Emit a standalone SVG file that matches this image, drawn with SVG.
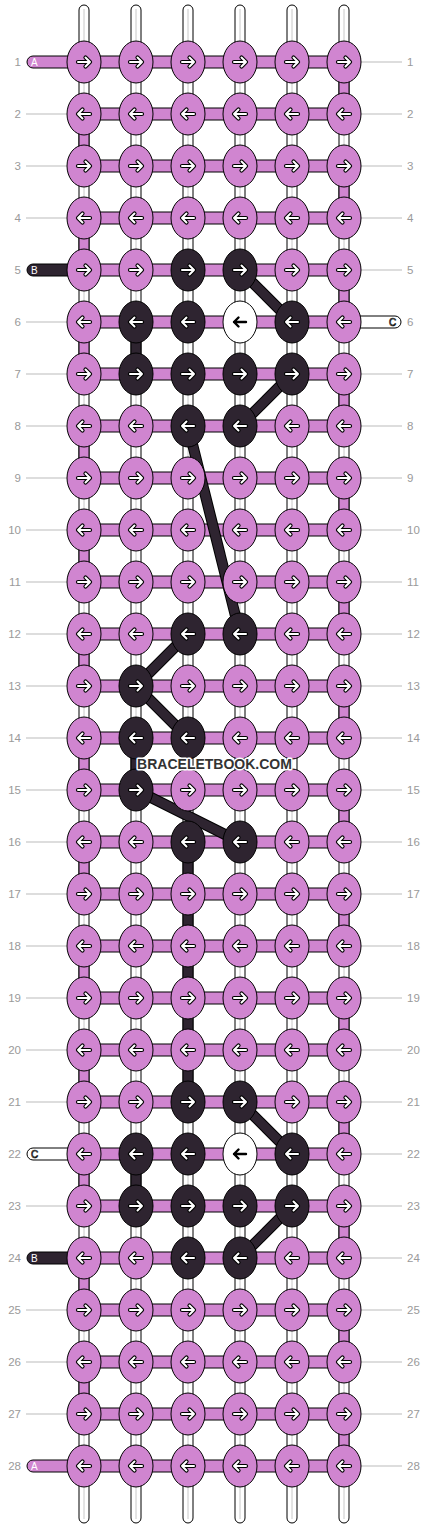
<svg xmlns="http://www.w3.org/2000/svg" xmlns:xlink="http://www.w3.org/1999/xlink" width="428" height="1528" viewBox="0 0 428 1528">
<style>
.ws{fill:#fff;stroke:#000;stroke-width:1}
.wl{stroke:#c8c8c8;stroke-width:1}
.p{fill:#d085d0}
.d{fill:#2e2430}
.w{fill:#fff}
.seg{stroke:#000;stroke-width:1}
.n ellipse{stroke:#000;stroke-width:1}
.num{font-family:"Liberation Sans",Arial,sans-serif;font-size:11.5px;fill:#9a9a9a}
.gl{stroke:#bbb;stroke-width:1}
.lab{font-family:"Liberation Sans",Arial,sans-serif;font-size:10px;fill:#fff}
.labc{font-family:"Liberation Sans",Arial,sans-serif;font-size:10px;fill:#fff;stroke:#000;stroke-width:0.7}
.dgo{stroke:#000;stroke-width:11;stroke-linecap:butt}
.dgi{stroke:#2e2430;stroke-width:9;stroke-linecap:butt}
.wm{font-family:"Liberation Sans",Arial,sans-serif;font-size:14px;font-weight:bold;fill:#333;stroke:#fff;stroke-width:3;paint-order:stroke;stroke-linejoin:round}
</style>
<defs>
<g id="R" fill="none" stroke-linecap="round" stroke-linejoin="round">
<path d="M-6,0H6M1.5,-4.5L6,0L1.5,4.5" stroke="#000" stroke-width="4.2"/>
<path d="M-6,0H6M1.5,-4.5L6,0L1.5,4.5" stroke="#fff" stroke-width="2"/>
</g>
<g id="L" fill="none" stroke-linecap="round" stroke-linejoin="round">
<path d="M6,0H-6M-1.5,-4.5L-6,0L-1.5,4.5" stroke="#000" stroke-width="4.2"/>
<path d="M6,0H-6M-1.5,-4.5L-6,0L-1.5,4.5" stroke="#fff" stroke-width="2"/>
</g>
<g id="Lk" fill="none" stroke-linecap="round" stroke-linejoin="round">
<path d="M6,0H-6M-1.5,-4.5L-6,0L-1.5,4.5" stroke="#000" stroke-width="2.4"/>
</g>
</defs>
<rect width="428" height="1528" fill="#fff"/>
<g id="strings">
<rect class="ws" x="79" y="5" width="10" height="1518" rx="5"/>
<rect class="ws" x="131" y="5" width="10" height="1518" rx="5"/>
<rect class="ws" x="183" y="5" width="10" height="1518" rx="5"/>
<rect class="ws" x="235" y="5" width="10" height="1518" rx="5"/>
<rect class="ws" x="287" y="5" width="10" height="1518" rx="5"/>
<rect class="ws" x="339" y="5" width="10" height="1518" rx="5"/>
<line class="wl" x1="84" y1="9" x2="84" y2="1519"/>
<line class="wl" x1="136" y1="9" x2="136" y2="1519"/>
<line class="wl" x1="188" y1="9" x2="188" y2="1519"/>
<line class="wl" x1="240" y1="9" x2="240" y2="1519"/>
<line class="wl" x1="292" y1="9" x2="292" y2="1519"/>
<line class="wl" x1="344" y1="9" x2="344" y2="1519"/>
</g>
<g id="connectors">
<!-- vertical turn segments -->
<rect class="seg p" x="339" y="62" width="10" height="52"/>
<rect class="seg p" x="79" y="114" width="10" height="52"/>
<rect class="seg p" x="339" y="166" width="10" height="52"/>
<rect class="seg p" x="79" y="218" width="10" height="52"/>
<rect class="seg p" x="339" y="270" width="10" height="52"/>
<rect class="seg p" x="79" y="322" width="10" height="52"/>
<rect class="seg p" x="339" y="374" width="10" height="52"/>
<rect class="seg p" x="79" y="426" width="10" height="52"/>
<rect class="seg p" x="339" y="478" width="10" height="52"/>
<rect class="seg p" x="79" y="530" width="10" height="52"/>
<rect class="seg p" x="339" y="582" width="10" height="52"/>
<rect class="seg p" x="79" y="634" width="10" height="52"/>
<rect class="seg p" x="339" y="686" width="10" height="52"/>
<rect class="seg p" x="79" y="738" width="10" height="52"/>
<rect class="seg p" x="339" y="790" width="10" height="52"/>
<rect class="seg p" x="79" y="842" width="10" height="52"/>
<rect class="seg p" x="339" y="894" width="10" height="52"/>
<rect class="seg p" x="79" y="946" width="10" height="52"/>
<rect class="seg p" x="339" y="998" width="10" height="52"/>
<rect class="seg p" x="79" y="1050" width="10" height="52"/>
<rect class="seg p" x="339" y="1102" width="10" height="52"/>
<rect class="seg p" x="79" y="1154" width="10" height="52"/>
<rect class="seg p" x="339" y="1206" width="10" height="52"/>
<rect class="seg p" x="79" y="1258" width="10" height="52"/>
<rect class="seg p" x="339" y="1310" width="10" height="52"/>
<rect class="seg p" x="79" y="1362" width="10" height="52"/>
<rect class="seg p" x="339" y="1414" width="10" height="52"/>
<!-- dark vertical segments -->
<rect class="seg d" x="131" y="322" width="10" height="52"/>
<rect class="seg d" x="131" y="738" width="10" height="52"/>
<rect class="seg d" x="183" y="842" width="10" height="260"/>
<rect class="seg d" x="131" y="1154" width="10" height="52"/>
<!-- horizontal bars -->
<rect class="seg p" x="84" y="56" width="260" height="12"/>
<rect class="seg p" x="84" y="108" width="260" height="12"/>
<rect class="seg p" x="84" y="160" width="260" height="12"/>
<rect class="seg p" x="84" y="212" width="260" height="12"/>
<rect class="seg p" x="84" y="264" width="260" height="12"/>
<rect class="seg p" x="84" y="316" width="260" height="12"/>
<rect class="seg p" x="84" y="368" width="260" height="12"/>
<rect class="seg p" x="84" y="420" width="260" height="12"/>
<rect class="seg p" x="84" y="472" width="260" height="12"/>
<rect class="seg p" x="84" y="524" width="260" height="12"/>
<rect class="seg p" x="84" y="576" width="260" height="12"/>
<rect class="seg p" x="84" y="628" width="260" height="12"/>
<rect class="seg p" x="84" y="680" width="260" height="12"/>
<rect class="seg p" x="84" y="732" width="260" height="12"/>
<rect class="seg p" x="84" y="784" width="260" height="12"/>
<rect class="seg p" x="84" y="836" width="260" height="12"/>
<rect class="seg p" x="84" y="888" width="260" height="12"/>
<rect class="seg p" x="84" y="940" width="260" height="12"/>
<rect class="seg p" x="84" y="992" width="260" height="12"/>
<rect class="seg p" x="84" y="1044" width="260" height="12"/>
<rect class="seg p" x="84" y="1096" width="260" height="12"/>
<rect class="seg p" x="84" y="1148" width="260" height="12"/>
<rect class="seg p" x="84" y="1200" width="260" height="12"/>
<rect class="seg p" x="84" y="1252" width="260" height="12"/>
<rect class="seg p" x="84" y="1304" width="260" height="12"/>
<rect class="seg p" x="84" y="1356" width="260" height="12"/>
<rect class="seg p" x="84" y="1408" width="260" height="12"/>
<rect class="seg p" x="84" y="1460" width="260" height="12"/>
<!-- start strings -->
<rect class="seg p" x="27" y="56" width="57" height="12" rx="6"/>
<rect class="seg d" x="27" y="264" width="57" height="12" rx="6"/>
<rect class="seg w" x="344" y="316" width="57" height="12" rx="6"/>
<rect class="seg w" x="27" y="1148" width="57" height="12" rx="6"/>
<rect class="seg d" x="27" y="1252" width="57" height="12" rx="6"/>
<rect class="seg p" x="27" y="1460" width="57" height="12" rx="6"/>
<!-- diagonals -->
<line class="dgo" x1="240" y1="270" x2="292" y2="322"/>
<line class="dgo" x1="292" y1="374" x2="240" y2="426"/>
<line class="dgo" x1="188" y1="426" x2="240" y2="634"/>
<line class="dgo" x1="188" y1="634" x2="136" y2="686"/>
<line class="dgo" x1="136" y1="686" x2="188" y2="738"/>
<line class="dgo" x1="136" y1="790" x2="240" y2="842"/>
<line class="dgo" x1="240" y1="1102" x2="292" y2="1154"/>
<line class="dgo" x1="292" y1="1206" x2="240" y2="1258"/>
<line class="dgi" x1="240" y1="270" x2="292" y2="322"/>
<line class="dgi" x1="292" y1="374" x2="240" y2="426"/>
<line class="dgi" x1="188" y1="426" x2="240" y2="634"/>
<line class="dgi" x1="188" y1="634" x2="136" y2="686"/>
<line class="dgi" x1="136" y1="686" x2="188" y2="738"/>
<line class="dgi" x1="136" y1="790" x2="240" y2="842"/>
<line class="dgi" x1="240" y1="1102" x2="292" y2="1154"/>
<line class="dgi" x1="292" y1="1206" x2="240" y2="1258"/>
</g>
<g id="labels">
<text class="lab" x="31" y="66">A</text>
<text class="lab" x="31" y="274">B</text>
<text class="labc" x="389" y="326">C</text>
<text class="labc" x="31" y="1158">C</text>
<text class="lab" x="31" y="1262">B</text>
<text class="lab" x="31" y="1470">A</text>
<line class="gl" x1="26" y1="114" x2="67" y2="114"/><line class="gl" x1="26" y1="166" x2="67" y2="166"/><line class="gl" x1="26" y1="218" x2="67" y2="218"/><line class="gl" x1="26" y1="322" x2="67" y2="322"/><line class="gl" x1="26" y1="374" x2="67" y2="374"/><line class="gl" x1="26" y1="426" x2="67" y2="426"/><line class="gl" x1="26" y1="478" x2="67" y2="478"/><line class="gl" x1="26" y1="530" x2="67" y2="530"/><line class="gl" x1="26" y1="582" x2="67" y2="582"/><line class="gl" x1="26" y1="634" x2="67" y2="634"/><line class="gl" x1="26" y1="686" x2="67" y2="686"/><line class="gl" x1="26" y1="738" x2="67" y2="738"/><line class="gl" x1="26" y1="790" x2="67" y2="790"/><line class="gl" x1="26" y1="842" x2="67" y2="842"/><line class="gl" x1="26" y1="894" x2="67" y2="894"/><line class="gl" x1="26" y1="946" x2="67" y2="946"/><line class="gl" x1="26" y1="998" x2="67" y2="998"/><line class="gl" x1="26" y1="1050" x2="67" y2="1050"/><line class="gl" x1="26" y1="1102" x2="67" y2="1102"/><line class="gl" x1="26" y1="1206" x2="67" y2="1206"/><line class="gl" x1="26" y1="1310" x2="67" y2="1310"/><line class="gl" x1="26" y1="1362" x2="67" y2="1362"/><line class="gl" x1="26" y1="1414" x2="67" y2="1414"/>
<line class="gl" x1="361" y1="62" x2="402" y2="62"/><line class="gl" x1="361" y1="114" x2="402" y2="114"/><line class="gl" x1="361" y1="166" x2="402" y2="166"/><line class="gl" x1="361" y1="218" x2="402" y2="218"/><line class="gl" x1="361" y1="270" x2="402" y2="270"/><line class="gl" x1="361" y1="374" x2="402" y2="374"/><line class="gl" x1="361" y1="426" x2="402" y2="426"/><line class="gl" x1="361" y1="478" x2="402" y2="478"/><line class="gl" x1="361" y1="530" x2="402" y2="530"/><line class="gl" x1="361" y1="582" x2="402" y2="582"/><line class="gl" x1="361" y1="634" x2="402" y2="634"/><line class="gl" x1="361" y1="686" x2="402" y2="686"/><line class="gl" x1="361" y1="738" x2="402" y2="738"/><line class="gl" x1="361" y1="790" x2="402" y2="790"/><line class="gl" x1="361" y1="842" x2="402" y2="842"/><line class="gl" x1="361" y1="894" x2="402" y2="894"/><line class="gl" x1="361" y1="946" x2="402" y2="946"/><line class="gl" x1="361" y1="998" x2="402" y2="998"/><line class="gl" x1="361" y1="1050" x2="402" y2="1050"/><line class="gl" x1="361" y1="1102" x2="402" y2="1102"/><line class="gl" x1="361" y1="1154" x2="402" y2="1154"/><line class="gl" x1="361" y1="1206" x2="402" y2="1206"/><line class="gl" x1="361" y1="1258" x2="402" y2="1258"/><line class="gl" x1="361" y1="1310" x2="402" y2="1310"/><line class="gl" x1="361" y1="1362" x2="402" y2="1362"/><line class="gl" x1="361" y1="1414" x2="402" y2="1414"/><line class="gl" x1="361" y1="1466" x2="402" y2="1466"/>
<g class="num" text-anchor="end">
<text x="21" y="66">1</text><text x="21" y="118">2</text><text x="21" y="170">3</text><text x="21" y="222">4</text><text x="21" y="274">5</text><text x="21" y="326">6</text><text x="21" y="378">7</text><text x="21" y="430">8</text><text x="21" y="482">9</text><text x="21" y="534">10</text><text x="21" y="586">11</text><text x="21" y="638">12</text><text x="21" y="690">13</text><text x="21" y="742">14</text><text x="21" y="794">15</text><text x="21" y="846">16</text><text x="21" y="898">17</text><text x="21" y="950">18</text><text x="21" y="1002">19</text><text x="21" y="1054">20</text><text x="21" y="1106">21</text><text x="21" y="1158">22</text><text x="21" y="1210">23</text><text x="21" y="1262">24</text><text x="21" y="1314">25</text><text x="21" y="1366">26</text><text x="21" y="1418">27</text><text x="21" y="1470">28</text>
</g>
<g class="num">
<text x="407" y="66">1</text><text x="407" y="118">2</text><text x="407" y="170">3</text><text x="407" y="222">4</text><text x="407" y="274">5</text><text x="407" y="326">6</text><text x="407" y="378">7</text><text x="407" y="430">8</text><text x="407" y="482">9</text><text x="407" y="534">10</text><text x="407" y="586">11</text><text x="407" y="638">12</text><text x="407" y="690">13</text><text x="407" y="742">14</text><text x="407" y="794">15</text><text x="407" y="846">16</text><text x="407" y="898">17</text><text x="407" y="950">18</text><text x="407" y="1002">19</text><text x="407" y="1054">20</text><text x="407" y="1106">21</text><text x="407" y="1158">22</text><text x="407" y="1210">23</text><text x="407" y="1262">24</text><text x="407" y="1314">25</text><text x="407" y="1366">26</text><text x="407" y="1418">27</text><text x="407" y="1470">28</text>
</g>
</g>
<g id="nodes">
<g id="r1c1" class="n" transform="translate(84,62)"><ellipse class="p" rx="17" ry="21"/><use href="#R"/></g>
<g id="r1c2" class="n" transform="translate(136,62)"><ellipse class="p" rx="17" ry="21"/><use href="#R"/></g>
<g id="r1c3" class="n" transform="translate(188,62)"><ellipse class="p" rx="17" ry="21"/><use href="#R"/></g>
<g id="r1c4" class="n" transform="translate(240,62)"><ellipse class="p" rx="17" ry="21"/><use href="#R"/></g>
<g id="r1c5" class="n" transform="translate(292,62)"><ellipse class="p" rx="17" ry="21"/><use href="#R"/></g>
<g id="r1c6" class="n" transform="translate(344,62)"><ellipse class="p" rx="17" ry="21"/><use href="#R"/></g>
<g id="r2c1" class="n" transform="translate(84,114)"><ellipse class="p" rx="17" ry="21"/><use href="#L"/></g>
<g id="r2c2" class="n" transform="translate(136,114)"><ellipse class="p" rx="17" ry="21"/><use href="#L"/></g>
<g id="r2c3" class="n" transform="translate(188,114)"><ellipse class="p" rx="17" ry="21"/><use href="#L"/></g>
<g id="r2c4" class="n" transform="translate(240,114)"><ellipse class="p" rx="17" ry="21"/><use href="#L"/></g>
<g id="r2c5" class="n" transform="translate(292,114)"><ellipse class="p" rx="17" ry="21"/><use href="#L"/></g>
<g id="r2c6" class="n" transform="translate(344,114)"><ellipse class="p" rx="17" ry="21"/><use href="#L"/></g>
<g id="r3c1" class="n" transform="translate(84,166)"><ellipse class="p" rx="17" ry="21"/><use href="#R"/></g>
<g id="r3c2" class="n" transform="translate(136,166)"><ellipse class="p" rx="17" ry="21"/><use href="#R"/></g>
<g id="r3c3" class="n" transform="translate(188,166)"><ellipse class="p" rx="17" ry="21"/><use href="#R"/></g>
<g id="r3c4" class="n" transform="translate(240,166)"><ellipse class="p" rx="17" ry="21"/><use href="#R"/></g>
<g id="r3c5" class="n" transform="translate(292,166)"><ellipse class="p" rx="17" ry="21"/><use href="#R"/></g>
<g id="r3c6" class="n" transform="translate(344,166)"><ellipse class="p" rx="17" ry="21"/><use href="#R"/></g>
<g id="r4c1" class="n" transform="translate(84,218)"><ellipse class="p" rx="17" ry="21"/><use href="#L"/></g>
<g id="r4c2" class="n" transform="translate(136,218)"><ellipse class="p" rx="17" ry="21"/><use href="#L"/></g>
<g id="r4c3" class="n" transform="translate(188,218)"><ellipse class="p" rx="17" ry="21"/><use href="#L"/></g>
<g id="r4c4" class="n" transform="translate(240,218)"><ellipse class="p" rx="17" ry="21"/><use href="#L"/></g>
<g id="r4c5" class="n" transform="translate(292,218)"><ellipse class="p" rx="17" ry="21"/><use href="#L"/></g>
<g id="r4c6" class="n" transform="translate(344,218)"><ellipse class="p" rx="17" ry="21"/><use href="#L"/></g>
<g id="r5c1" class="n" transform="translate(84,270)"><ellipse class="p" rx="17" ry="21"/><use href="#R"/></g>
<g id="r5c2" class="n" transform="translate(136,270)"><ellipse class="p" rx="17" ry="21"/><use href="#R"/></g>
<g id="r5c3" class="n" transform="translate(188,270)"><ellipse class="d" rx="17" ry="21"/><use href="#R"/></g>
<g id="r5c4" class="n" transform="translate(240,270)"><ellipse class="d" rx="17" ry="21"/><use href="#R"/></g>
<g id="r5c5" class="n" transform="translate(292,270)"><ellipse class="p" rx="17" ry="21"/><use href="#R"/></g>
<g id="r5c6" class="n" transform="translate(344,270)"><ellipse class="p" rx="17" ry="21"/><use href="#R"/></g>
<g id="r6c1" class="n" transform="translate(84,322)"><ellipse class="p" rx="17" ry="21"/><use href="#L"/></g>
<g id="r6c2" class="n" transform="translate(136,322)"><ellipse class="d" rx="17" ry="21"/><use href="#L"/></g>
<g id="r6c3" class="n" transform="translate(188,322)"><ellipse class="d" rx="17" ry="21"/><use href="#L"/></g>
<g id="r6c4" class="n" transform="translate(240,322)"><ellipse class="w" rx="17" ry="21"/><use href="#Lk"/></g>
<g id="r6c5" class="n" transform="translate(292,322)"><ellipse class="d" rx="17" ry="21"/><use href="#L"/></g>
<g id="r6c6" class="n" transform="translate(344,322)"><ellipse class="p" rx="17" ry="21"/><use href="#L"/></g>
<g id="r7c1" class="n" transform="translate(84,374)"><ellipse class="p" rx="17" ry="21"/><use href="#R"/></g>
<g id="r7c2" class="n" transform="translate(136,374)"><ellipse class="d" rx="17" ry="21"/><use href="#R"/></g>
<g id="r7c3" class="n" transform="translate(188,374)"><ellipse class="d" rx="17" ry="21"/><use href="#R"/></g>
<g id="r7c4" class="n" transform="translate(240,374)"><ellipse class="d" rx="17" ry="21"/><use href="#R"/></g>
<g id="r7c5" class="n" transform="translate(292,374)"><ellipse class="d" rx="17" ry="21"/><use href="#R"/></g>
<g id="r7c6" class="n" transform="translate(344,374)"><ellipse class="p" rx="17" ry="21"/><use href="#R"/></g>
<g id="r8c1" class="n" transform="translate(84,426)"><ellipse class="p" rx="17" ry="21"/><use href="#L"/></g>
<g id="r8c2" class="n" transform="translate(136,426)"><ellipse class="p" rx="17" ry="21"/><use href="#L"/></g>
<g id="r8c3" class="n" transform="translate(188,426)"><ellipse class="d" rx="17" ry="21"/><use href="#L"/></g>
<g id="r8c4" class="n" transform="translate(240,426)"><ellipse class="d" rx="17" ry="21"/><use href="#L"/></g>
<g id="r8c5" class="n" transform="translate(292,426)"><ellipse class="p" rx="17" ry="21"/><use href="#L"/></g>
<g id="r8c6" class="n" transform="translate(344,426)"><ellipse class="p" rx="17" ry="21"/><use href="#L"/></g>
<g id="r9c1" class="n" transform="translate(84,478)"><ellipse class="p" rx="17" ry="21"/><use href="#R"/></g>
<g id="r9c2" class="n" transform="translate(136,478)"><ellipse class="p" rx="17" ry="21"/><use href="#R"/></g>
<g id="r9c3" class="n" transform="translate(188,478)"><ellipse class="p" rx="17" ry="21"/><use href="#R"/></g>
<g id="r9c4" class="n" transform="translate(240,478)"><ellipse class="p" rx="17" ry="21"/><use href="#R"/></g>
<g id="r9c5" class="n" transform="translate(292,478)"><ellipse class="p" rx="17" ry="21"/><use href="#R"/></g>
<g id="r9c6" class="n" transform="translate(344,478)"><ellipse class="p" rx="17" ry="21"/><use href="#R"/></g>
<g id="r10c1" class="n" transform="translate(84,530)"><ellipse class="p" rx="17" ry="21"/><use href="#L"/></g>
<g id="r10c2" class="n" transform="translate(136,530)"><ellipse class="p" rx="17" ry="21"/><use href="#L"/></g>
<g id="r10c3" class="n" transform="translate(188,530)"><ellipse class="p" rx="17" ry="21"/><use href="#L"/></g>
<g id="r10c4" class="n" transform="translate(240,530)"><ellipse class="p" rx="17" ry="21"/><use href="#L"/></g>
<g id="r10c5" class="n" transform="translate(292,530)"><ellipse class="p" rx="17" ry="21"/><use href="#L"/></g>
<g id="r10c6" class="n" transform="translate(344,530)"><ellipse class="p" rx="17" ry="21"/><use href="#L"/></g>
<g id="r11c1" class="n" transform="translate(84,582)"><ellipse class="p" rx="17" ry="21"/><use href="#R"/></g>
<g id="r11c2" class="n" transform="translate(136,582)"><ellipse class="p" rx="17" ry="21"/><use href="#R"/></g>
<g id="r11c3" class="n" transform="translate(188,582)"><ellipse class="p" rx="17" ry="21"/><use href="#R"/></g>
<g id="r11c4" class="n" transform="translate(240,582)"><ellipse class="p" rx="17" ry="21"/><use href="#R"/></g>
<g id="r11c5" class="n" transform="translate(292,582)"><ellipse class="p" rx="17" ry="21"/><use href="#R"/></g>
<g id="r11c6" class="n" transform="translate(344,582)"><ellipse class="p" rx="17" ry="21"/><use href="#R"/></g>
<g id="r12c1" class="n" transform="translate(84,634)"><ellipse class="p" rx="17" ry="21"/><use href="#L"/></g>
<g id="r12c2" class="n" transform="translate(136,634)"><ellipse class="p" rx="17" ry="21"/><use href="#L"/></g>
<g id="r12c3" class="n" transform="translate(188,634)"><ellipse class="d" rx="17" ry="21"/><use href="#L"/></g>
<g id="r12c4" class="n" transform="translate(240,634)"><ellipse class="d" rx="17" ry="21"/><use href="#L"/></g>
<g id="r12c5" class="n" transform="translate(292,634)"><ellipse class="p" rx="17" ry="21"/><use href="#L"/></g>
<g id="r12c6" class="n" transform="translate(344,634)"><ellipse class="p" rx="17" ry="21"/><use href="#L"/></g>
<g id="r13c1" class="n" transform="translate(84,686)"><ellipse class="p" rx="17" ry="21"/><use href="#R"/></g>
<g id="r13c2" class="n" transform="translate(136,686)"><ellipse class="d" rx="17" ry="21"/><use href="#R"/></g>
<g id="r13c3" class="n" transform="translate(188,686)"><ellipse class="p" rx="17" ry="21"/><use href="#R"/></g>
<g id="r13c4" class="n" transform="translate(240,686)"><ellipse class="p" rx="17" ry="21"/><use href="#R"/></g>
<g id="r13c5" class="n" transform="translate(292,686)"><ellipse class="p" rx="17" ry="21"/><use href="#R"/></g>
<g id="r13c6" class="n" transform="translate(344,686)"><ellipse class="p" rx="17" ry="21"/><use href="#R"/></g>
<g id="r14c1" class="n" transform="translate(84,738)"><ellipse class="p" rx="17" ry="21"/><use href="#L"/></g>
<g id="r14c2" class="n" transform="translate(136,738)"><ellipse class="d" rx="17" ry="21"/><use href="#L"/></g>
<g id="r14c3" class="n" transform="translate(188,738)"><ellipse class="d" rx="17" ry="21"/><use href="#L"/></g>
<g id="r14c4" class="n" transform="translate(240,738)"><ellipse class="p" rx="17" ry="21"/><use href="#L"/></g>
<g id="r14c5" class="n" transform="translate(292,738)"><ellipse class="p" rx="17" ry="21"/><use href="#L"/></g>
<g id="r14c6" class="n" transform="translate(344,738)"><ellipse class="p" rx="17" ry="21"/><use href="#L"/></g>
<g id="r15c1" class="n" transform="translate(84,790)"><ellipse class="p" rx="17" ry="21"/><use href="#R"/></g>
<g id="r15c2" class="n" transform="translate(136,790)"><ellipse class="d" rx="17" ry="21"/><use href="#R"/></g>
<g id="r15c3" class="n" transform="translate(188,790)"><ellipse class="p" rx="17" ry="21"/><use href="#R"/></g>
<g id="r15c4" class="n" transform="translate(240,790)"><ellipse class="p" rx="17" ry="21"/><use href="#R"/></g>
<g id="r15c5" class="n" transform="translate(292,790)"><ellipse class="p" rx="17" ry="21"/><use href="#R"/></g>
<g id="r15c6" class="n" transform="translate(344,790)"><ellipse class="p" rx="17" ry="21"/><use href="#R"/></g>
<g id="r16c1" class="n" transform="translate(84,842)"><ellipse class="p" rx="17" ry="21"/><use href="#L"/></g>
<g id="r16c2" class="n" transform="translate(136,842)"><ellipse class="p" rx="17" ry="21"/><use href="#L"/></g>
<g id="r16c3" class="n" transform="translate(188,842)"><ellipse class="d" rx="17" ry="21"/><use href="#L"/></g>
<g id="r16c4" class="n" transform="translate(240,842)"><ellipse class="d" rx="17" ry="21"/><use href="#L"/></g>
<g id="r16c5" class="n" transform="translate(292,842)"><ellipse class="p" rx="17" ry="21"/><use href="#L"/></g>
<g id="r16c6" class="n" transform="translate(344,842)"><ellipse class="p" rx="17" ry="21"/><use href="#L"/></g>
<g id="r17c1" class="n" transform="translate(84,894)"><ellipse class="p" rx="17" ry="21"/><use href="#R"/></g>
<g id="r17c2" class="n" transform="translate(136,894)"><ellipse class="p" rx="17" ry="21"/><use href="#R"/></g>
<g id="r17c3" class="n" transform="translate(188,894)"><ellipse class="p" rx="17" ry="21"/><use href="#R"/></g>
<g id="r17c4" class="n" transform="translate(240,894)"><ellipse class="p" rx="17" ry="21"/><use href="#R"/></g>
<g id="r17c5" class="n" transform="translate(292,894)"><ellipse class="p" rx="17" ry="21"/><use href="#R"/></g>
<g id="r17c6" class="n" transform="translate(344,894)"><ellipse class="p" rx="17" ry="21"/><use href="#R"/></g>
<g id="r18c1" class="n" transform="translate(84,946)"><ellipse class="p" rx="17" ry="21"/><use href="#L"/></g>
<g id="r18c2" class="n" transform="translate(136,946)"><ellipse class="p" rx="17" ry="21"/><use href="#L"/></g>
<g id="r18c3" class="n" transform="translate(188,946)"><ellipse class="p" rx="17" ry="21"/><use href="#L"/></g>
<g id="r18c4" class="n" transform="translate(240,946)"><ellipse class="p" rx="17" ry="21"/><use href="#L"/></g>
<g id="r18c5" class="n" transform="translate(292,946)"><ellipse class="p" rx="17" ry="21"/><use href="#L"/></g>
<g id="r18c6" class="n" transform="translate(344,946)"><ellipse class="p" rx="17" ry="21"/><use href="#L"/></g>
<g id="r19c1" class="n" transform="translate(84,998)"><ellipse class="p" rx="17" ry="21"/><use href="#R"/></g>
<g id="r19c2" class="n" transform="translate(136,998)"><ellipse class="p" rx="17" ry="21"/><use href="#R"/></g>
<g id="r19c3" class="n" transform="translate(188,998)"><ellipse class="p" rx="17" ry="21"/><use href="#R"/></g>
<g id="r19c4" class="n" transform="translate(240,998)"><ellipse class="p" rx="17" ry="21"/><use href="#R"/></g>
<g id="r19c5" class="n" transform="translate(292,998)"><ellipse class="p" rx="17" ry="21"/><use href="#R"/></g>
<g id="r19c6" class="n" transform="translate(344,998)"><ellipse class="p" rx="17" ry="21"/><use href="#R"/></g>
<g id="r20c1" class="n" transform="translate(84,1050)"><ellipse class="p" rx="17" ry="21"/><use href="#L"/></g>
<g id="r20c2" class="n" transform="translate(136,1050)"><ellipse class="p" rx="17" ry="21"/><use href="#L"/></g>
<g id="r20c3" class="n" transform="translate(188,1050)"><ellipse class="p" rx="17" ry="21"/><use href="#L"/></g>
<g id="r20c4" class="n" transform="translate(240,1050)"><ellipse class="p" rx="17" ry="21"/><use href="#L"/></g>
<g id="r20c5" class="n" transform="translate(292,1050)"><ellipse class="p" rx="17" ry="21"/><use href="#L"/></g>
<g id="r20c6" class="n" transform="translate(344,1050)"><ellipse class="p" rx="17" ry="21"/><use href="#L"/></g>
<g id="r21c1" class="n" transform="translate(84,1102)"><ellipse class="p" rx="17" ry="21"/><use href="#R"/></g>
<g id="r21c2" class="n" transform="translate(136,1102)"><ellipse class="p" rx="17" ry="21"/><use href="#R"/></g>
<g id="r21c3" class="n" transform="translate(188,1102)"><ellipse class="d" rx="17" ry="21"/><use href="#R"/></g>
<g id="r21c4" class="n" transform="translate(240,1102)"><ellipse class="d" rx="17" ry="21"/><use href="#R"/></g>
<g id="r21c5" class="n" transform="translate(292,1102)"><ellipse class="p" rx="17" ry="21"/><use href="#R"/></g>
<g id="r21c6" class="n" transform="translate(344,1102)"><ellipse class="p" rx="17" ry="21"/><use href="#R"/></g>
<g id="r22c1" class="n" transform="translate(84,1154)"><ellipse class="p" rx="17" ry="21"/><use href="#L"/></g>
<g id="r22c2" class="n" transform="translate(136,1154)"><ellipse class="d" rx="17" ry="21"/><use href="#L"/></g>
<g id="r22c3" class="n" transform="translate(188,1154)"><ellipse class="d" rx="17" ry="21"/><use href="#L"/></g>
<g id="r22c4" class="n" transform="translate(240,1154)"><ellipse class="w" rx="17" ry="21"/><use href="#Lk"/></g>
<g id="r22c5" class="n" transform="translate(292,1154)"><ellipse class="d" rx="17" ry="21"/><use href="#L"/></g>
<g id="r22c6" class="n" transform="translate(344,1154)"><ellipse class="p" rx="17" ry="21"/><use href="#L"/></g>
<g id="r23c1" class="n" transform="translate(84,1206)"><ellipse class="p" rx="17" ry="21"/><use href="#R"/></g>
<g id="r23c2" class="n" transform="translate(136,1206)"><ellipse class="d" rx="17" ry="21"/><use href="#R"/></g>
<g id="r23c3" class="n" transform="translate(188,1206)"><ellipse class="d" rx="17" ry="21"/><use href="#R"/></g>
<g id="r23c4" class="n" transform="translate(240,1206)"><ellipse class="d" rx="17" ry="21"/><use href="#R"/></g>
<g id="r23c5" class="n" transform="translate(292,1206)"><ellipse class="d" rx="17" ry="21"/><use href="#R"/></g>
<g id="r23c6" class="n" transform="translate(344,1206)"><ellipse class="p" rx="17" ry="21"/><use href="#R"/></g>
<g id="r24c1" class="n" transform="translate(84,1258)"><ellipse class="p" rx="17" ry="21"/><use href="#L"/></g>
<g id="r24c2" class="n" transform="translate(136,1258)"><ellipse class="p" rx="17" ry="21"/><use href="#L"/></g>
<g id="r24c3" class="n" transform="translate(188,1258)"><ellipse class="d" rx="17" ry="21"/><use href="#L"/></g>
<g id="r24c4" class="n" transform="translate(240,1258)"><ellipse class="d" rx="17" ry="21"/><use href="#L"/></g>
<g id="r24c5" class="n" transform="translate(292,1258)"><ellipse class="p" rx="17" ry="21"/><use href="#L"/></g>
<g id="r24c6" class="n" transform="translate(344,1258)"><ellipse class="p" rx="17" ry="21"/><use href="#L"/></g>
<g id="r25c1" class="n" transform="translate(84,1310)"><ellipse class="p" rx="17" ry="21"/><use href="#R"/></g>
<g id="r25c2" class="n" transform="translate(136,1310)"><ellipse class="p" rx="17" ry="21"/><use href="#R"/></g>
<g id="r25c3" class="n" transform="translate(188,1310)"><ellipse class="p" rx="17" ry="21"/><use href="#R"/></g>
<g id="r25c4" class="n" transform="translate(240,1310)"><ellipse class="p" rx="17" ry="21"/><use href="#R"/></g>
<g id="r25c5" class="n" transform="translate(292,1310)"><ellipse class="p" rx="17" ry="21"/><use href="#R"/></g>
<g id="r25c6" class="n" transform="translate(344,1310)"><ellipse class="p" rx="17" ry="21"/><use href="#R"/></g>
<g id="r26c1" class="n" transform="translate(84,1362)"><ellipse class="p" rx="17" ry="21"/><use href="#L"/></g>
<g id="r26c2" class="n" transform="translate(136,1362)"><ellipse class="p" rx="17" ry="21"/><use href="#L"/></g>
<g id="r26c3" class="n" transform="translate(188,1362)"><ellipse class="p" rx="17" ry="21"/><use href="#L"/></g>
<g id="r26c4" class="n" transform="translate(240,1362)"><ellipse class="p" rx="17" ry="21"/><use href="#L"/></g>
<g id="r26c5" class="n" transform="translate(292,1362)"><ellipse class="p" rx="17" ry="21"/><use href="#L"/></g>
<g id="r26c6" class="n" transform="translate(344,1362)"><ellipse class="p" rx="17" ry="21"/><use href="#L"/></g>
<g id="r27c1" class="n" transform="translate(84,1414)"><ellipse class="p" rx="17" ry="21"/><use href="#R"/></g>
<g id="r27c2" class="n" transform="translate(136,1414)"><ellipse class="p" rx="17" ry="21"/><use href="#R"/></g>
<g id="r27c3" class="n" transform="translate(188,1414)"><ellipse class="p" rx="17" ry="21"/><use href="#R"/></g>
<g id="r27c4" class="n" transform="translate(240,1414)"><ellipse class="p" rx="17" ry="21"/><use href="#R"/></g>
<g id="r27c5" class="n" transform="translate(292,1414)"><ellipse class="p" rx="17" ry="21"/><use href="#R"/></g>
<g id="r27c6" class="n" transform="translate(344,1414)"><ellipse class="p" rx="17" ry="21"/><use href="#R"/></g>
<g id="r28c1" class="n" transform="translate(84,1466)"><ellipse class="p" rx="17" ry="21"/><use href="#L"/></g>
<g id="r28c2" class="n" transform="translate(136,1466)"><ellipse class="p" rx="17" ry="21"/><use href="#L"/></g>
<g id="r28c3" class="n" transform="translate(188,1466)"><ellipse class="p" rx="17" ry="21"/><use href="#L"/></g>
<g id="r28c4" class="n" transform="translate(240,1466)"><ellipse class="p" rx="17" ry="21"/><use href="#L"/></g>
<g id="r28c5" class="n" transform="translate(292,1466)"><ellipse class="p" rx="17" ry="21"/><use href="#L"/></g>
<g id="r28c6" class="n" transform="translate(344,1466)"><ellipse class="p" rx="17" ry="21"/><use href="#L"/></g>
</g>
<text id="watermark" class="wm" x="214.5" y="769" text-anchor="middle">BRACELETBOOK.COM</text>
</svg>
